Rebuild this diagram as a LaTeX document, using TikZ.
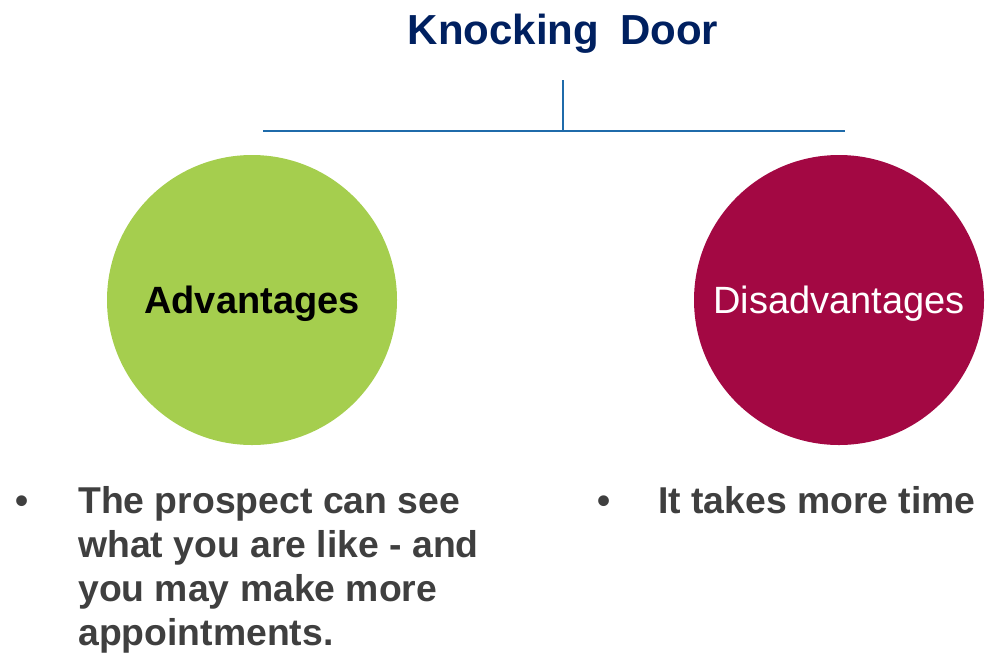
\documentclass[tikz,border=0pt]{standalone}
\usepackage{fontspec}
\setmainfont{Liberation Sans}
\definecolor{titleblue}{HTML}{002060}
\definecolor{treeblue}{HTML}{1F6BAA}
\definecolor{advgreen}{HTML}{A5CE4E}
\definecolor{disred}{HTML}{A30843}
\definecolor{bodygray}{HTML}{3F3F3F}
\tikzset{
  ball/.style={circle,minimum size=217.5pt,inner sep=0pt,text depth=0pt,font=\fontsize{28.5}{34}\selectfont},
  bullettext/.style={anchor=base west,inner sep=0pt,text=bodygray,font=\fontsize{28}{33}\selectfont\bfseries},
  tree/.style={treeblue,line width=1.5pt}
}

\begin{document}
\begin{tikzpicture}[x=0.75pt,y=-0.75pt]
  \useasboundingbox (0,0) rectangle (987,654);
  \node[anchor=base,inner sep=0pt,text=titleblue,font=\fontsize{31.5}{36}\selectfont\bfseries] (title) at (563,44) {Knocking\hspace{0.5em}Door};
  \coordinate (stem) at (563,80);
  \coordinate (joint) at (563,131);
  \coordinate (lend) at (263,131);
  \coordinate (rend) at (845,131);
  \draw[tree] (stem)--(joint);
  \draw[tree] (lend)--(rend);
  \node[ball,fill=advgreen,font=\fontsize{28.5}{34}\selectfont\bfseries] (adv) at (252,300) {Advantages};
  \node[ball,fill=disred,text=white] (dis) at (839,300) {Disadvantages};
  \foreach \txt [count=\i] in {The prospect can see,what you are like - and,you may make more,appointments.}{
    \node[bullettext] (advline\i) at (78,513+44*\i-44) {\txt};
  }
  \node[bullettext] (advbullet) at (15,513) {•};
  \node[bullettext] (disbullet) at (597,513) {•};
  \node[bullettext] (disline) at (658,513) {It takes more time};
\end{tikzpicture}
\end{document}
